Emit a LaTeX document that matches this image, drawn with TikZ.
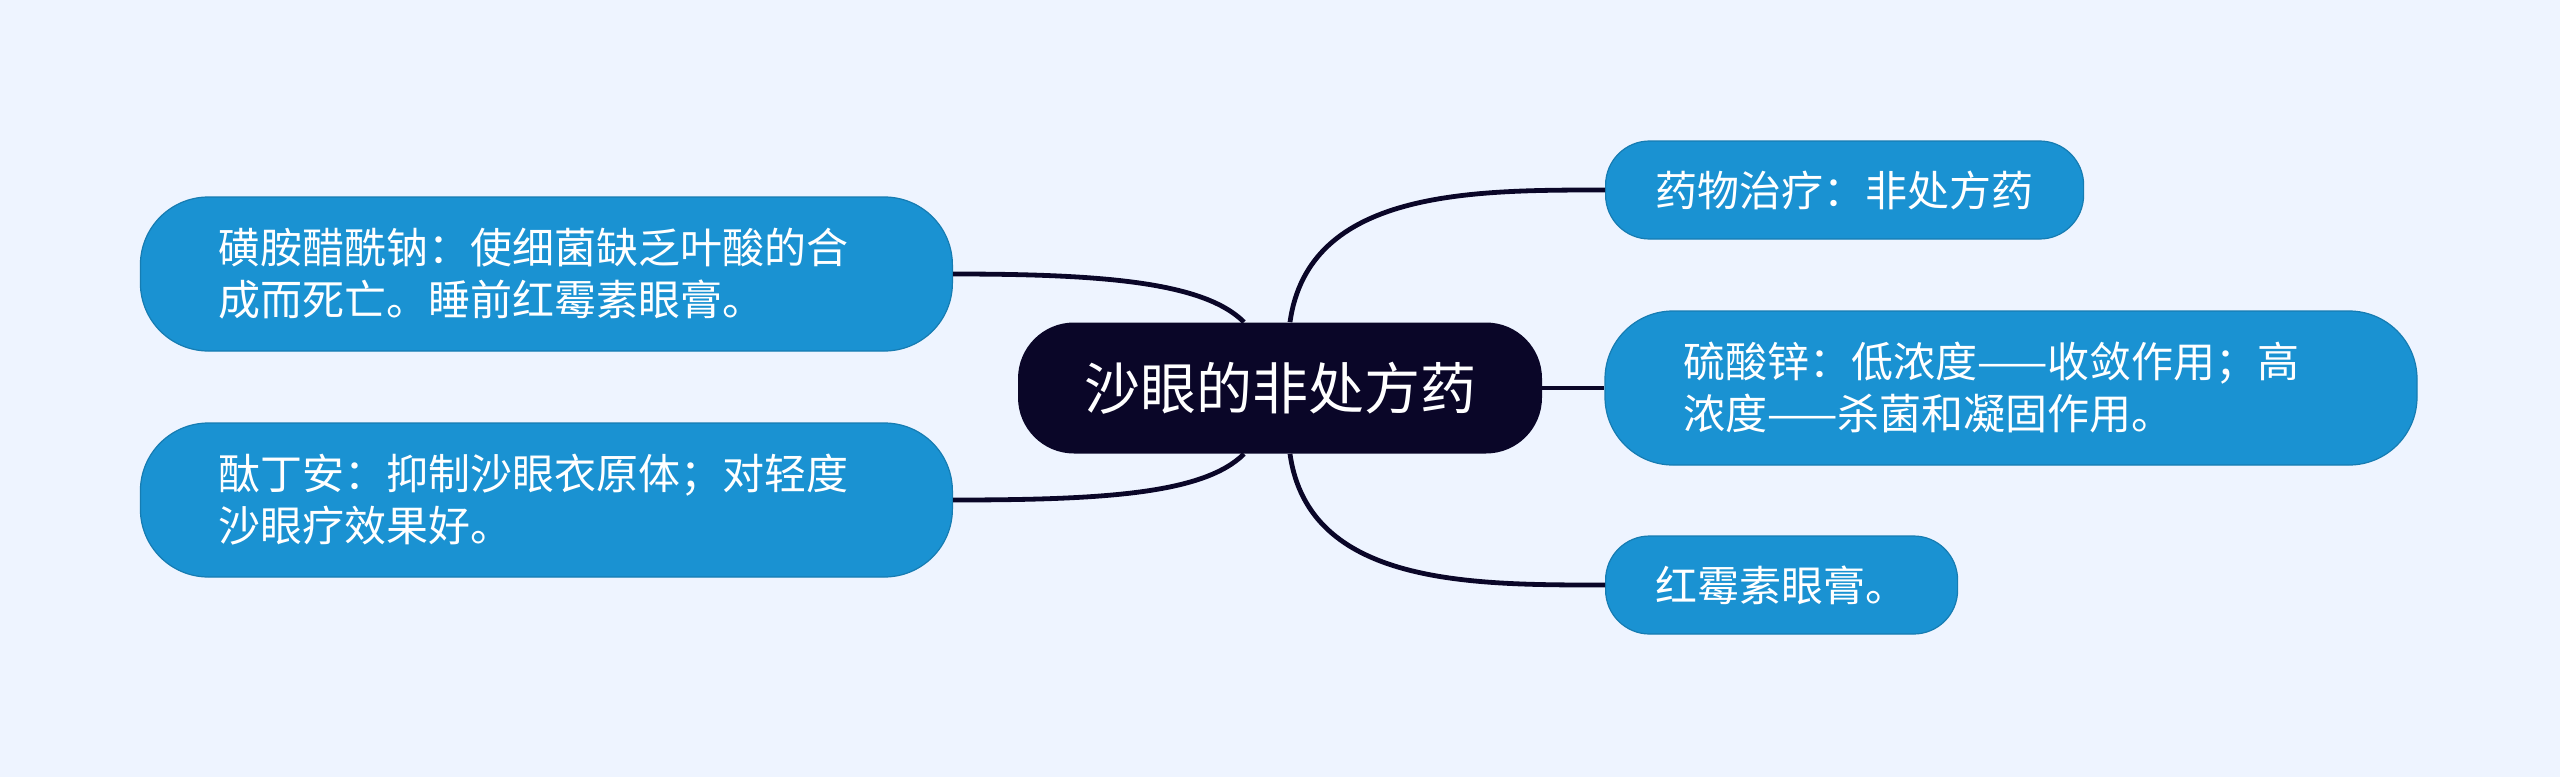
\documentclass[tikz,border=0pt]{standalone}
\usepackage{fontspec}
\newfontfamily\cjk{Noto Sans CJK SC}
\usetikzlibrary{positioning}
\definecolor{bgblue}{HTML}{EEF4FF}
\definecolor{leafblue}{HTML}{1A92D2}
\definecolor{rootnavy}{HTML}{0A0628}

\begin{document}
\begin{tikzpicture}[
  x=0.5pt, y=-0.5pt,
  root/.style={fill=rootnavy, text=white, rounded corners=28pt, minimum height=65.5pt, inner xsep=33pt, font=\cjk\fontsize{28pt}{34pt}\selectfont},
  leaf/.style={fill=leafblue, draw=leafblue!85!black, line width=0.6pt, text=white, rounded corners=22pt, minimum height=49pt, inner xsep=25pt, align=left, font=\cjk\fontsize{21pt}{26pt}\selectfont},
  wide/.style={leaf, rounded corners=34pt, minimum height=77pt, inner xsep=39pt, text width=328pt},
  link/.style={draw=rootnavy, line width=2.4pt}
]
\useasboundingbox (0,0) rectangle (2560,777);
\fill[bgblue] (0,0) rectangle (2560,777);

\node[root] (root) at (1280,388) {沙眼的非处方药};
\node[leaf, anchor=west] (drug) at (1605,190) {药物治疗：非处方药};
\node[wide, right=31pt of root] (zinc) {硫酸锌：低浓度——收敛作用；高\\浓度——杀菌和凝固作用。};
\node[leaf, anchor=west] (ery) at (1605,585) {红霉素眼膏。};
\node[wide, anchor=east] (sulfa) at (953,274) {磺胺醋酰钠：使细菌缺乏叶酸的合\\成而死亡。睡前红霉素眼膏。};
\node[wide, anchor=east] (tai) at (953,500) {酞丁安：抑制沙眼衣原体；对轻度\\沙眼疗效果好。};

\draw[link] ([xshift=5pt]root.north) to[out=82, in=180] (drug.west);
\draw[link] (root.east) -- (zinc.west);
\draw[link] ([xshift=5pt]root.south) to[out=-82, in=180] (ery.west);
\draw[link] ([xshift=-18pt]root.north) .. controls +(-40,-40) and +(150,0) .. (sulfa.east);
\draw[link] ([xshift=-18pt]root.south) .. controls +(-40,40) and +(150,0) .. (tai.east);
\end{tikzpicture}
\end{document}
